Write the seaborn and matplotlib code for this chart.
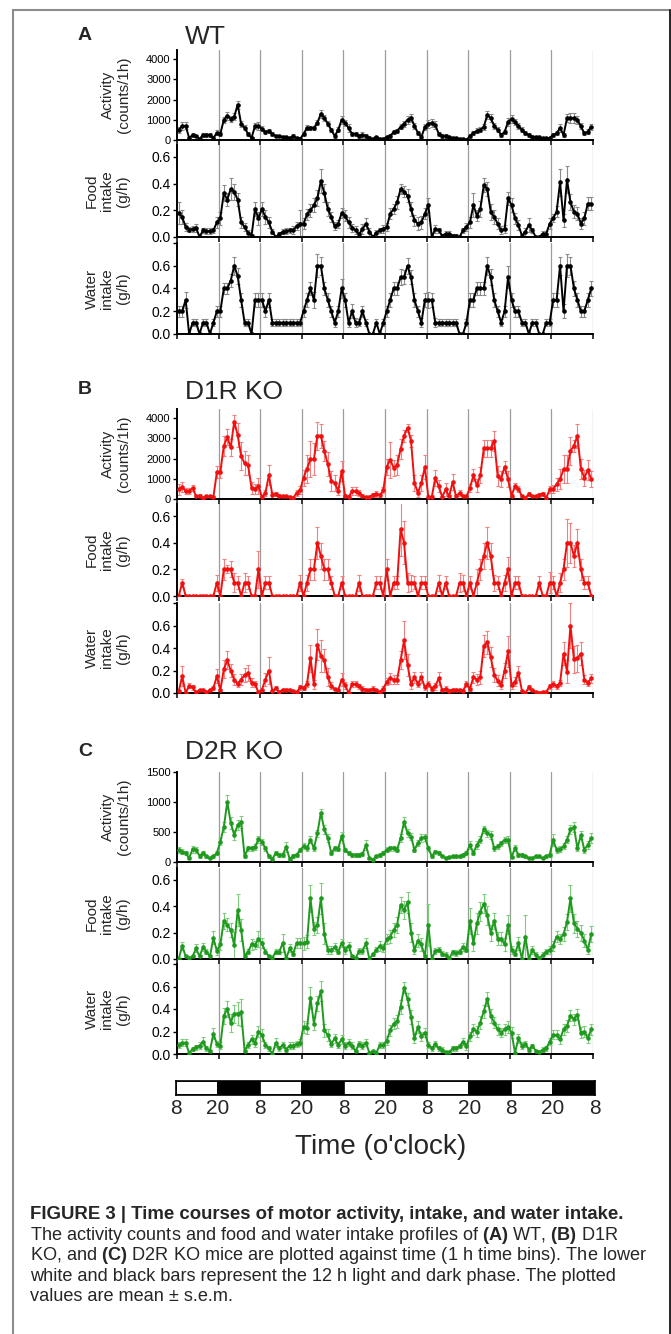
import matplotlib
matplotlib.use("Agg")
import matplotlib.pyplot as plt
from matplotlib.lines import Line2D
import seaborn as sns
import numpy as np

# hourly bins, 5 days starting at 8 o'clock
hours = np.arange(120) + 0.5

# ---- WT ----
wt_activity = [500, 700, 700, 100, 250, 200, 50, 250, 250, 250, 100, 350,
               300, 1000, 1200, 1050, 1150, 1750, 800, 600, 300, 100, 700, 700,
               550, 400, 450, 300, 200, 200, 150, 150, 100, 200, 100, 50,
               300, 600, 600, 600, 850, 1300, 1100, 800, 500, 200, 500, 1000,
               850, 600, 300, 300, 200, 250, 200, 100, 50, 150, 50, 50,
               150, 200, 400, 450, 650, 800, 1000, 1100, 700, 350, 150, 650,
               800, 850, 750, 300, 200, 200, 150, 100, 100, 50, 50, 0,
               200, 350, 450, 500, 650, 1250, 1080, 700, 500, 250, 400, 900,
               1050, 900, 670, 500, 330, 250, 170, 130, 130, 80, 80, 100,
               250, 330, 600, 250, 1080, 1100, 1080, 1000, 670, 330, 420, 650]
wt_activity_sem = [150, 200, 180, 60, 80, 70, 40, 90, 90, 80, 60, 120,
                   100, 150, 200, 150, 180, 200, 150, 120, 80, 60, 150, 200,
                   120, 100, 100, 80, 60, 60, 50, 60, 50, 80, 50, 40,
                   80, 120, 100, 100, 120, 200, 150, 120, 100, 80, 120, 200,
                   150, 200, 100, 100, 80, 150, 100, 80, 50, 60, 40, 40,
                   60, 80, 100, 100, 120, 150, 200, 200, 150, 100, 80, 150,
                   200, 200, 200, 100, 80, 80, 60, 50, 50, 40, 40, 30,
                   80, 100, 120, 120, 150, 200, 200, 150, 120, 80, 100, 200,
                   200, 150, 150, 120, 100, 80, 60, 50, 50, 40, 40, 60,
                   80, 100, 200, 100, 200, 250, 250, 200, 150, 80, 100, 150]
wt_food = [0.18, 0.15, 0.075, 0.055, 0.06, 0.07, 0.0, 0.05, 0.045, 0.045, 0.05, 0.11,
           0.14, 0.33, 0.28, 0.36, 0.34, 0.28, 0.11, 0.075, 0.03, 0.01, 0.21, 0.14,
           0.21, 0.15, 0.11, 0.04, 0.0, 0.02, 0.04, 0.045, 0.05, 0.05, 0.08, 0.1,
           0.1, 0.17, 0.2, 0.24, 0.29, 0.42, 0.33, 0.21, 0.15, 0.08, 0.1, 0.18,
           0.16, 0.11, 0.07, 0.05, 0.02, 0.06, 0.1, 0.04, 0.0, 0.03, 0.05, 0.06,
           0.075, 0.175, 0.21, 0.26, 0.36, 0.34, 0.31, 0.21, 0.125, 0.1, 0.11, 0.175,
           0.24, 0.0, 0.06, 0.05, 0.01, 0.025, 0.025, 0.01, 0.01, 0.0, 0.05, 0.075,
           0.11, 0.24, 0.16, 0.21, 0.39, 0.36, 0.19, 0.15, 0.1, 0.05, 0.06, 0.29,
           0.24, 0.14, 0.09, 0.01, 0.04, 0.09, 0.05, 0.0, 0.0, 0.025, 0.025, 0.1,
           0.14, 0.19, 0.41, 0.125, 0.43, 0.26, 0.19, 0.175, 0.1, 0.14, 0.25, 0.25]
wt_food_sem = [0.08, 0.05, 0.03, 0.02, 0.02, 0.03, 0.02, 0.02, 0.02, 0.02, 0.02, 0.04,
               0.05, 0.06, 0.05, 0.08, 0.06, 0.05, 0.04, 0.03, 0.02, 0.01, 0.05, 0.05,
               0.05, 0.05, 0.04, 0.02, 0.01, 0.02, 0.02, 0.02, 0.02, 0.03, 0.03, 0.1,
               0.04, 0.04, 0.05, 0.05, 0.06, 0.09, 0.07, 0.05, 0.04, 0.03, 0.03, 0.04,
               0.04, 0.04, 0.03, 0.03, 0.02, 0.04, 0.04, 0.03, 0.01, 0.02, 0.02, 0.03,
               0.03, 0.04, 0.04, 0.05, 0.04, 0.04, 0.05, 0.05, 0.04, 0.05, 0.05, 0.04,
               0.05, 0.01, 0.03, 0.02, 0.01, 0.02, 0.02, 0.01, 0.01, 0.01, 0.02, 0.03,
               0.04, 0.09, 0.04, 0.06, 0.05, 0.05, 0.06, 0.05, 0.04, 0.03, 0.03, 0.05,
               0.05, 0.04, 0.04, 0.01, 0.03, 0.05, 0.02, 0.01, 0.01, 0.02, 0.02, 0.04,
               0.03, 0.04, 0.1, 0.05, 0.1, 0.06, 0.05, 0.05, 0.04, 0.05, 0.05, 0.05]
wt_water = [0.2, 0.2, 0.3, 0.0, 0.1, 0.1, 0.0, 0.1, 0.1, 0.0, 0.1, 0.2,
            0.2, 0.4, 0.4, 0.47, 0.6, 0.51, 0.3, 0.1, 0.1, 0.0, 0.3, 0.3,
            0.3, 0.2, 0.3, 0.1, 0.1, 0.1, 0.1, 0.1, 0.1, 0.1, 0.1, 0.1,
            0.2, 0.3, 0.4, 0.3, 0.6, 0.6, 0.4, 0.3, 0.2, 0.1, 0.2, 0.4,
            0.3, 0.1, 0.2, 0.1, 0.1, 0.2, 0.1, 0.0, 0.0, 0.1, 0.0, 0.1,
            0.2, 0.3, 0.4, 0.4, 0.5, 0.5, 0.6, 0.5, 0.3, 0.2, 0.1, 0.3,
            0.3, 0.3, 0.1, 0.1, 0.1, 0.1, 0.1, 0.1, 0.1, 0.0, 0.0, 0.1,
            0.3, 0.3, 0.4, 0.4, 0.4, 0.6, 0.5, 0.3, 0.2, 0.1, 0.2, 0.5,
            0.3, 0.2, 0.2, 0.1, 0.1, 0.0, 0.1, 0.1, 0.0, 0.0, 0.1, 0.1,
            0.3, 0.3, 0.6, 0.2, 0.6, 0.6, 0.4, 0.3, 0.2, 0.2, 0.3, 0.4]
wt_water_sem = [0.05, 0.05, 0.07, 0.01, 0.03, 0.03, 0.01, 0.03, 0.03, 0.01, 0.03, 0.05,
                0.05, 0.05, 0.05, 0.06, 0.08, 0.07, 0.06, 0.03, 0.03, 0.01, 0.06, 0.06,
                0.06, 0.05, 0.06, 0.03, 0.03, 0.03, 0.03, 0.03, 0.03, 0.03, 0.03, 0.03,
                0.05, 0.06, 0.06, 0.07, 0.1, 0.08, 0.06, 0.06, 0.05, 0.04, 0.05, 0.08,
                0.06, 0.04, 0.06, 0.04, 0.03, 0.05, 0.03, 0.01, 0.01, 0.03, 0.01, 0.03,
                0.05, 0.06, 0.06, 0.06, 0.07, 0.06, 0.07, 0.06, 0.06, 0.05, 0.04, 0.06,
                0.07, 0.06, 0.04, 0.03, 0.03, 0.03, 0.03, 0.03, 0.03, 0.01, 0.01, 0.03,
                0.06, 0.06, 0.06, 0.06, 0.06, 0.08, 0.07, 0.06, 0.05, 0.03, 0.05, 0.1,
                0.06, 0.05, 0.05, 0.03, 0.03, 0.01, 0.03, 0.03, 0.01, 0.01, 0.03, 0.03,
                0.06, 0.06, 0.08, 0.06, 0.1, 0.08, 0.07, 0.06, 0.05, 0.05, 0.06, 0.07]

# ---- D1R KO ----
d1r_activity = [470, 600, 380, 380, 550, 130, 170, 50, 130, 130, 100, 1330,
                1330, 2630, 3050, 2550, 3830, 3170, 2130, 1770, 1670, 550, 500, 630,
                100, 300, 1170, 220, 250, 170, 130, 130, 100, 50, 300, 430,
                1050, 1500, 1970, 1970, 3130, 3130, 2380, 1720, 880, 800, 380, 1380,
                130, 100, 380, 400, 300, 150, 80, 100, 220, 270, 180, 430,
                1600, 1930, 1550, 1680, 2470, 3130, 3520, 2880, 800, 300, 800, 1580,
                100, 100, 1050, 630, 100, 470, 130, 830, 130, 300, 130, 130,
                550, 1170, 670, 1170, 2500, 2500, 2500, 2880, 1130, 1000, 1600, 970,
                170, 630, 500, 130, 50, 250, 130, 130, 220, 270, 50, 470,
                500, 720, 970, 1470, 1470, 2380, 2630, 3130, 1500, 1050, 1430, 970]
d1r_activity_sem = [250, 250, 150, 150, 150, 80, 80, 50, 60, 60, 50, 300,
                    300, 500, 400, 400, 300, 600, 700, 600, 500, 300, 250, 400,
                    100, 150, 500, 150, 100, 80, 80, 60, 60, 50, 150, 200,
                    400, 700, 900, 800, 700, 600, 500, 600, 500, 400, 200, 500,
                    100, 80, 200, 200, 150, 100, 50, 60, 100, 150, 100, 150,
                    400, 900, 400, 500, 500, 300, 200, 300, 400, 200, 400, 600,
                    80, 80, 400, 300, 60, 300, 80, 400, 80, 150, 80, 80,
                    200, 300, 300, 400, 400, 400, 400, 500, 500, 400, 300, 400,
                    100, 150, 150, 80, 50, 100, 80, 80, 100, 100, 50, 150,
                    200, 300, 500, 700, 700, 700, 300, 600, 500, 400, 500, 400]
d1r_food = [0, 0.1, 0, 0, 0, 0, 0, 0, 0, 0, 0, 0.1,
            0, 0.2, 0.2, 0.2, 0.1, 0.1, 0, 0.1, 0.1, 0, 0, 0.2,
            0, 0.1, 0.1, 0, 0, 0, 0, 0, 0, 0, 0, 0.1,
            0, 0.1, 0.2, 0.2, 0.4, 0.3, 0.2, 0.2, 0.1, 0, 0, 0.1,
            0, 0, 0, 0, 0.1, 0, 0, 0, 0, 0.1, 0.1, 0,
            0.2, 0, 0.1, 0.1, 0.5, 0.4, 0.1, 0.1, 0.1, 0, 0.1, 0.1,
            0, 0, 0, 0.1, 0, 0.1, 0, 0, 0, 0.1, 0.1, 0,
            0.1, 0, 0.1, 0.2, 0.3, 0.4, 0.3, 0.1, 0.1, 0, 0.1, 0.2,
            0, 0.1, 0.1, 0, 0, 0, 0, 0, 0.1, 0, 0, 0.1,
            0.1, 0, 0.1, 0.2, 0.4, 0.4, 0.3, 0.4, 0.2, 0.1, 0.1, 0]
d1r_food_sem = [0, 0.03, 0, 0, 0.01, 0, 0.01, 0, 0, 0, 0, 0.06,
                0, 0.08, 0.03, 0.06, 0.07, 0.05, 0, 0.07, 0.05, 0, 0, 0.14,
                0, 0.05, 0.05, 0, 0, 0, 0, 0.01, 0.01, 0, 0, 0.06,
                0, 0.06, 0.08, 0.08, 0.12, 0.1, 0.08, 0.08, 0.05, 0, 0, 0.05,
                0, 0, 0, 0, 0.06, 0, 0, 0, 0, 0.05, 0.05, 0,
                0.08, 0, 0.05, 0.05, 0.2, 0.16, 0.07, 0.06, 0.05, 0, 0.05, 0.05,
                0, 0, 0, 0.06, 0, 0.05, 0, 0, 0, 0.07, 0.06, 0,
                0.05, 0, 0.1, 0.08, 0.1, 0.12, 0.1, 0.06, 0.05, 0, 0.06, 0.09,
                0, 0.05, 0.05, 0, 0, 0, 0, 0, 0.05, 0, 0, 0.08,
                0.05, 0, 0.07, 0.08, 0.18, 0.15, 0.08, 0.1, 0.08, 0.05, 0.05, 0]
d1r_water = [0.015, 0.15, 0, 0.065, 0.05, 0.005, 0.025, 0.03, 0.005, 0.025, 0.045, 0.15,
             0.025, 0.21, 0.29, 0.2, 0.12, 0.08, 0.12, 0.16, 0.18, 0.09, 0.08, 0.005,
             0.03, 0.12, 0.2, 0.015, 0.045, 0.005, 0.03, 0.03, 0.03, 0.015, 0.005, 0.05,
             0.045, 0.08, 0.31, 0.08, 0.43, 0.33, 0.29, 0.14, 0.065, 0.035, 0.025, 0.12,
             0.07, 0.0, 0.08, 0.08, 0.06, 0.04, 0.03, 0.025, 0.04, 0.025, 0.01, 0.04,
             0.1, 0.13, 0.12, 0.12, 0.29, 0.47, 0.25, 0.08, 0.14, 0.08, 0.14, 0.05,
             0.08, 0.04, 0.06, 0.13, 0.025, 0.04, 0.02, 0.03, 0.03, 0.03, 0.02, 0.08,
             0.04, 0.14, 0.12, 0.14, 0.42, 0.45, 0.32, 0.16, 0.11, 0.07, 0.2, 0.37,
             0.07, 0.1, 0.18, 0.02, 0.0, 0.05, 0.025, 0.01, 0.0, 0.01, 0.01, 0.06,
             0.08, 0.06, 0.09, 0.35, 0.19, 0.6, 0.3, 0.31, 0.35, 0.12, 0.09, 0.13]
d1r_water_sem = [0.01, 0.09, 0, 0.02, 0.02, 0.01, 0.01, 0.01, 0.01, 0.01, 0.02, 0.06,
                 0.01, 0.08, 0.08, 0.06, 0.05, 0.03, 0.05, 0.06, 0.07, 0.04, 0.03, 0.01,
                 0.01, 0.06, 0.12, 0.01, 0.02, 0.01, 0.01, 0.01, 0.01, 0.01, 0.01, 0.02,
                 0.02, 0.03, 0.12, 0.04, 0.14, 0.14, 0.1, 0.08, 0.03, 0.01, 0.01, 0.06,
                 0.03, 0.01, 0.03, 0.03, 0.02, 0.02, 0.01, 0.01, 0.02, 0.01, 0.01, 0.02,
                 0.03, 0.05, 0.04, 0.04, 0.08, 0.17, 0.1, 0.04, 0.05, 0.03, 0.05, 0.02,
                 0.03, 0.02, 0.03, 0.06, 0.01, 0.02, 0.01, 0.01, 0.01, 0.01, 0.01, 0.03,
                 0.02, 0.05, 0.05, 0.06, 0.1, 0.1, 0.09, 0.06, 0.05, 0.03, 0.07, 0.14,
                 0.03, 0.04, 0.06, 0.01, 0, 0.02, 0.01, 0.01, 0, 0.01, 0.01, 0.02,
                 0.03, 0.02, 0.03, 0.1, 0.1, 0.2, 0.12, 0.12, 0.1, 0.04, 0.03, 0.04]

# ---- D2R KO ----
d2r_activity = [200, 175, 150, 65, 215, 200, 105, 150, 95, 65, 95, 150,
                340, 580, 1000, 655, 450, 615, 670, 95, 230, 230, 250, 380,
                340, 230, 95, 50, 150, 120, 120, 250, 50, 105, 120, 200,
                260, 230, 370, 230, 480, 820, 545, 400, 150, 230, 220, 435,
                200, 150, 120, 120, 120, 130, 280, 65, 40, 95, 120, 150,
                205, 230, 230, 205, 400, 670, 480, 425, 205, 315, 400, 415,
                230, 95, 175, 150, 105, 65, 80, 95, 95, 95, 120, 150,
                285, 150, 285, 370, 545, 480, 450, 230, 260, 315, 370, 370,
                80, 230, 120, 120, 95, 65, 65, 95, 95, 65, 95, 120,
                370, 205, 215, 260, 370, 545, 580, 230, 450, 205, 285, 400]
d2r_activity_sem = [50, 40, 40, 20, 60, 50, 30, 40, 30, 20, 30, 40,
                    60, 80, 120, 100, 80, 80, 100, 20, 40, 40, 50, 60,
                    50, 40, 30, 15, 40, 30, 30, 80, 20, 30, 30, 40,
                    50, 40, 60, 40, 60, 60, 70, 60, 40, 40, 40, 60,
                    40, 30, 30, 30, 30, 30, 80, 20, 15, 20, 30, 40,
                    40, 40, 40, 40, 60, 80, 70, 60, 40, 50, 60, 60,
                    40, 20, 30, 30, 20, 15, 15, 20, 20, 20, 30, 30,
                    60, 40, 60, 60, 60, 60, 60, 40, 40, 40, 50, 60,
                    20, 50, 30, 30, 20, 15, 15, 20, 20, 15, 20, 30,
                    100, 50, 50, 50, 60, 80, 80, 50, 70, 50, 60, 80]
d2r_food = [0, 0.1, 0.02, 0.005, 0.02, 0.08, 0.02, 0.09, 0.055, 0.02, 0.16, 0.06,
            0.11, 0.29, 0.26, 0.22, 0.105, 0.37, 0.22, 0.025, 0.055, 0.11, 0.105, 0.15,
            0.12, 0.055, 0.02, 0.01, 0.055, 0.055, 0.12, 0.005, 0.08, 0.04, 0.12, 0.12,
            0.12, 0.13, 0.46, 0.23, 0.26, 0.46, 0.19, 0.07, 0.065, 0.09, 0.055, 0.12,
            0.07, 0.1, 0.02, 0.005, 0.06, 0.06, 0.12, 0.0, 0.035, 0.07, 0.1, 0.08,
            0.15, 0.17, 0.22, 0.26, 0.41, 0.37, 0.43, 0.2, 0.07, 0.14, 0.11, 0.02,
            0.26, 0.0, 0.06, 0.07, 0.04, 0.03, 0.005, 0.05, 0.045, 0.055, 0.09, 0.07,
            0.29, 0.12, 0.27, 0.36, 0.42, 0.33, 0.2, 0.29, 0.155, 0.155, 0.11, 0.26,
            0.07, 0.04, 0.12, 0.0, 0.17, 0.0, 0.07, 0.03, 0.005, 0.03, 0.055, 0.07,
            0.1, 0.17, 0.15, 0.19, 0.28, 0.46, 0.27, 0.23, 0.2, 0.14, 0.07, 0.19]
d2r_food_sem = [0.01, 0.03, 0.01, 0.01, 0.01, 0.03, 0.01, 0.03, 0.02, 0.01, 0.05, 0.03,
                0.04, 0.06, 0.05, 0.05, 0.1, 0.12, 0.08, 0.01, 0.02, 0.04, 0.03, 0.06,
                0.04, 0.02, 0.01, 0.01, 0.02, 0.02, 0.07, 0.01, 0.03, 0.02, 0.04, 0.04,
                0.05, 0.05, 0.1, 0.05, 0.06, 0.12, 0.08, 0.03, 0.03, 0.03, 0.02, 0.03,
                0.03, 0.03, 0.01, 0.01, 0.02, 0.02, 0.04, 0.01, 0.01, 0.02, 0.04, 0.03,
                0.04, 0.05, 0.05, 0.06, 0.06, 0.07, 0.08, 0.07, 0.03, 0.05, 0.05, 0.01,
                0.16, 0.01, 0.02, 0.02, 0.02, 0.02, 0.01, 0.02, 0.02, 0.02, 0.03, 0.02,
                0.1, 0.06, 0.08, 0.07, 0.07, 0.07, 0.06, 0.06, 0.05, 0.05, 0.05, 0.07,
                0.03, 0.02, 0.05, 0.01, 0.16, 0.01, 0.03, 0.02, 0.01, 0.02, 0.02, 0.03,
                0.04, 0.04, 0.04, 0.05, 0.06, 0.1, 0.07, 0.06, 0.06, 0.05, 0.03, 0.06]
d2r_water = [0.08, 0.1, 0.1, 0.01, 0.045, 0.06, 0.075, 0.11, 0.05, 0.03, 0.18, 0.09,
             0.075, 0.34, 0.4, 0.28, 0.36, 0.36, 0.37, 0.03, 0.08, 0.13, 0.1, 0.2,
             0.17, 0.08, 0.05, 0.0, 0.1, 0.05, 0.08, 0.04, 0.075, 0.075, 0.09, 0.1,
             0.24, 0.23, 0.5, 0.27, 0.45, 0.56, 0.21, 0.17, 0.09, 0.14, 0.08, 0.13,
             0.075, 0.1, 0.075, 0.025, 0.09, 0.075, 0.1, 0.01, 0.025, 0.01, 0.08, 0.08,
             0.12, 0.21, 0.27, 0.29, 0.42, 0.59, 0.49, 0.33, 0.14, 0.24, 0.16, 0.19,
             0.08, 0.05, 0.09, 0.05, 0.04, 0.015, 0.015, 0.05, 0.05, 0.07, 0.11, 0.07,
             0.16, 0.22, 0.2, 0.28, 0.38, 0.49, 0.34, 0.28, 0.22, 0.19, 0.22, 0.24,
             0.19, 0.01, 0.14, 0.075, 0.09, 0.04, 0.07, 0.03, 0.015, 0.04, 0.05, 0.11,
             0.17, 0.17, 0.13, 0.22, 0.25, 0.34, 0.31, 0.35, 0.19, 0.2, 0.14, 0.22]
d2r_water_sem = [0.03, 0.03, 0.03, 0.01, 0.02, 0.02, 0.03, 0.04, 0.02, 0.01, 0.05, 0.03,
                 0.03, 0.07, 0.07, 0.08, 0.08, 0.1, 0.12, 0.01, 0.03, 0.04, 0.04, 0.05,
                 0.05, 0.03, 0.02, 0.01, 0.04, 0.02, 0.03, 0.02, 0.03, 0.03, 0.03, 0.03,
                 0.05, 0.05, 0.1, 0.06, 0.07, 0.09, 0.06, 0.05, 0.03, 0.04, 0.03, 0.04,
                 0.03, 0.03, 0.03, 0.01, 0.03, 0.03, 0.03, 0.01, 0.01, 0.01, 0.03, 0.03,
                 0.04, 0.05, 0.05, 0.06, 0.06, 0.05, 0.05, 0.06, 0.04, 0.05, 0.04, 0.04,
                 0.03, 0.02, 0.03, 0.02, 0.02, 0.01, 0.01, 0.02, 0.02, 0.02, 0.03, 0.03,
                 0.04, 0.05, 0.05, 0.06, 0.06, 0.06, 0.06, 0.05, 0.05, 0.04, 0.05, 0.05,
                 0.05, 0.01, 0.04, 0.03, 0.03, 0.02, 0.02, 0.01, 0.01, 0.02, 0.02, 0.03,
                 0.04, 0.04, 0.04, 0.05, 0.05, 0.05, 0.05, 0.05, 0.05, 0.05, 0.04, 0.05]

# light / dark bar and time axis
phase_start = [0, 12, 24, 36, 48, 60, 72, 84, 96, 108]
phase_fill = ["white", "black"] * 5
time_ticks = [0, 12, 24, 36, 48, 60, 72, 84, 96, 108, 120]
time_labels = ["8", "20", "8", "20", "8", "20", "8", "20", "8", "20", "8"]

sns.set_theme(style="white")
plt.rcParams["font.family"] = ["Liberation Sans", "DejaVu Sans"]
plt.rcParams["mathtext.fontset"] = "custom"
plt.rcParams["mathtext.rm"] = "Liberation Sans"
plt.rcParams["mathtext.bf"] = "Liberation Sans:bold"

W, H = 671, 1334
fig = plt.figure(figsize=(W / 100, H / 100), dpi=100)


def axes_px(top, bottom, left=177, right=593):
    return fig.add_axes([left / W, 1 - bottom / H, (right - left) / W, (bottom - top) / H])


groups = [
    ("A", "WT", "black", "#8a8a8a", 4450, [0, 1000, 2000, 3000, 4000],
     [(wt_activity, wt_activity_sem), (wt_food, wt_food_sem), (wt_water, wt_water_sem)],
     [(50, 140), (145, 237), (243, 334)], (36, 37.5)),
    ("B", "D1R KO", "#f01010", "#f28080", 4450, [0, 1000, 2000, 3000, 4000],
     [(d1r_activity, d1r_activity_sem), (d1r_food, d1r_food_sem), (d1r_water, d1r_water_sem)],
     [(409, 499), (504, 596), (603, 693)], (389, 392)),
    ("C", "D2R KO", "#1f9a1f", "#7fcc7f", 1500, [0, 500, 1000, 1500],
     [(d2r_activity, d2r_activity_sem), (d2r_food, d2r_food_sem), (d2r_water, d2r_water_sem)],
     [(772, 862), (868, 959), (964, 1054)], (751, 752)),
]

row_labels = ["Activity\n(counts/1h)", "Food\nintake\n(g/h)", "Water\nintake\n(g/h)"]

for letter, name, color, ecolor, act_top, act_ticks, series, rows, (ly, ny) in groups:
    fig.text(78 / W, 1 - ly / H, letter, fontsize=14, fontweight="bold", va="center", ha="left")
    fig.text(185 / W, 1 - ny / H, name, fontsize=19, va="center", ha="left")
    for r, ((vals, sem), (top, bottom)) in enumerate(zip(series, rows)):
        ax = axes_px(top, bottom)
        for xv in time_ticks[1:]:
            ax.axvline(xv, color="#9c9c9c", lw=0.9, zorder=0)
        ax.errorbar(hours, vals, yerr=sem, fmt="none", ecolor=ecolor, elinewidth=0.8,
                    capsize=1.4, capthick=0.8, zorder=2)
        sns.lineplot(x=hours, y=vals, ax=ax, color=color, lw=1.4, marker="o",
                     markersize=3.3, markeredgewidth=0, zorder=3)
        ax.set_xlim(0, 120)
        ax.set_xticks(time_ticks)
        ax.set_xticklabels([])
        if r == 0:
            ax.set_ylim(0, act_top)
            ax.set_yticks(act_ticks)
            ax.set_yticklabels([str(t) for t in act_ticks])
            ax.tick_params(axis="y", labelsize=8)
            lx = -0.147
        elif r == 1:
            ax.set_ylim(0, 0.69)
            ax.set_yticks([0, 0.2, 0.4, 0.6])
            ax.set_yticklabels(["0.0", "0.2", "0.4", "0.6"])
            ax.tick_params(axis="y", labelsize=10)
            lx = -0.168
        else:
            ax.set_ylim(0, 0.8)
            ax.set_yticks([0, 0.2, 0.4, 0.6, 0.8])
            ax.set_yticklabels(["0.0", "0.2", "0.4", "0.6", ""])
            ax.tick_params(axis="y", labelsize=10)
            lx = -0.168
        ax.tick_params(axis="y", direction="out", length=3, width=1.0, pad=1.5,
                       left=True, colors="black")
        ax.tick_params(axis="x", direction="out", length=3.5, width=1.3, bottom=True)
        for s in ["top", "right"]:
            ax.spines[s].set_visible(False)
        for s in ["left", "bottom"]:
            ax.spines[s].set_color("black")
            ax.spines[s].set_linewidth(1.4)
        ax.set_xlabel("")
        ax.set_ylabel("")
        ax.text(lx, 0.5, row_labels[r], transform=ax.transAxes, rotation=90,
                ha="center", va="center", fontsize=11, linespacing=1.15)

# light/dark bar
axb = axes_px(1081, 1095, left=176, right=595)
axb.bar(phase_start, [1] * len(phase_start), width=12, align="edge", color=phase_fill,
        edgecolor="black", linewidth=1.2)
axb.set_xlim(0, 120)
axb.set_ylim(0, 1)
axb.set_yticks([])
axb.set_xticks(time_ticks)
axb.set_xticklabels(time_labels, fontsize=15)
axb.tick_params(axis="x", length=0, pad=3)
for s in axb.spines.values():
    s.set_color("black")
    s.set_linewidth(1.2)
fig.text(381 / W, 1 - 1147 / H, "Time (o'clock)", fontsize=20, ha="center", va="center")

# caption
renderer = fig.canvas.get_renderer()


def caption(y, s, size, **kw):
    return fig.text(30 / W, 1 - y / H, s, fontsize=size, va="baseline", ha="left", **kw)


t1 = caption(1219, "FIGURE 3 | Time courses of motor activity, intake, and water intake.", 11,
             fontweight="bold")
w1 = t1.get_window_extent(renderer).width
t1.set_fontsize(11 * 597 / w1)

body = [
    (1240, r"The activity counts and food and water intake profiles of $\mathbf{(A)}$ WT, $\mathbf{(B)}$ D1R", 602),
    (1260, r"KO, and $\mathbf{(C)}$ D2R KO mice are plotted against time (1 h time bins). The lower", 605),
    (1281, "white and black bars represent the 12 h light and dark phase. The plotted", 588),
    (1301, "values are mean \u00b1 s.e.m.", None),
]
texts = [caption(y, s, 11) for y, s, _ in body]
ratios = [tw / t.get_window_extent(renderer).width
          for t, (_, _, tw) in zip(texts, body) if tw]
cap_size = 11 * sum(ratios) / len(ratios)
for t in texts:
    t.set_fontsize(cap_size)

# frame
fig.add_artist(Line2D([13 / W, 670 / W], [1 - 10 / H, 1 - 10 / H], color="#8c8c8c", lw=1.5,
                      transform=fig.transFigure))
fig.add_artist(Line2D([13 / W, 13 / W], [0, 1 - 10 / H], color="#8c8c8c", lw=1.5,
                      transform=fig.transFigure))
fig.add_artist(Line2D([670 / W, 670 / W], [0, 1 - 10 / H], color="black", lw=1.2,
                      transform=fig.transFigure))

fig.savefig("out.png", dpi=100)
